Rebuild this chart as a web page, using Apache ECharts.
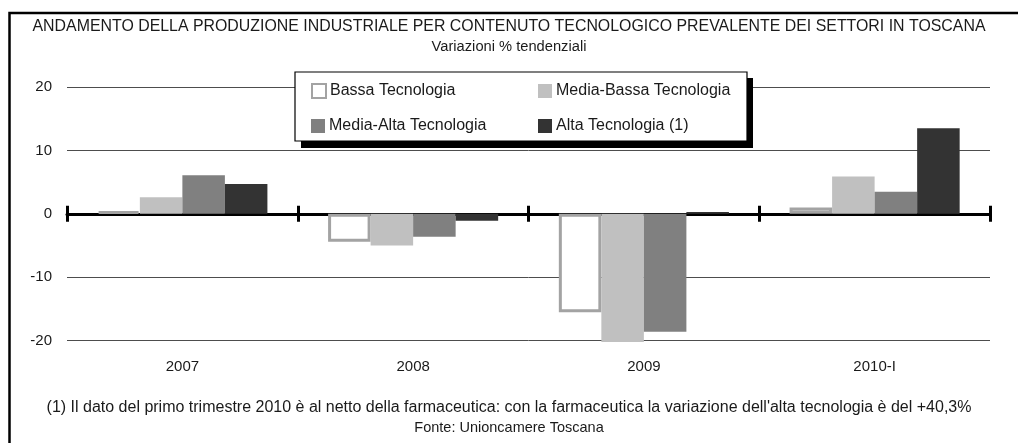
<!DOCTYPE html>
<html>
<head>
<meta charset="utf-8">
<script src="https://cdn.jsdelivr.net/npm/echarts@6/dist/echarts.min.js"></script>
<style>
  html, body { margin: 0; padding: 0; background: #fff; }
  #chart { width: 1018px; height: 443px; }
</style>
</head>
<body>
<div id="chart"></div>
<script>
// dati (variazioni % tendenziali)
const categories = ['2007', '2008', '2009', '2010-I'];
const seriesNames = ['Bassa Tecnologia', 'Media-Bassa Tecnologia', 'Media-Alta Tecnologia', 'Alta Tecnologia (1)'];
const bassa = [0.4, -4.4, -15.5, 1.0];
const mediaBassa = [2.6, -5.0, -20.2, 5.9];
const mediaAlta = [6.1, -3.6, -18.6, 3.5];
const alta = [4.7, -1.1, 0.3, 13.5];
const yTicks = [-20, -10, 0, 10, 20];

const titleText = 'ANDAMENTO DELLA PRODUZIONE INDUSTRIALE PER CONTENUTO TECNOLOGICO PREVALENTE DEI SETTORI IN TOSCANA';
const subTitleText = 'Variazioni % tendenziali';
const noteText = "(1) Il dato del primo trimestre 2010 è al netto della farmaceutica: con la farmaceutica la variazione dell'alta tecnologia è del +40,3%";
const sourceText = 'Fonte: Unioncamere Toscana';

const FONT = '"Liberation Sans", Arial, sans-serif';
const chart = echarts.init(document.getElementById('chart'));

const textStyle = { fontFamily: FONT, color: '#1a1a1a', fontWeight: 'normal' };

// legenda: una per voce, per allineare le colonne come nell'originale
const legendPos = [
  { left: 311, top: 83 },
  { left: 538, top: 83 },
  { left: 311, top: 118 },
  { left: 538, top: 118 }
];
const legends = seriesNames.map((name, i) => ({
  data: [name],
  left: legendPos[i].left,
  top: legendPos[i].top,
  padding: 0,
  itemWidth: 14,
  itemHeight: 14,
  icon: 'rect',
  selectedMode: false,
  z: 10,
  textStyle: { fontFamily: FONT, fontSize: 16, color: '#1a1a1a', lineHeight: 14, padding: [0, 0, 0, -1] }
}));

const option = {
  animation: false,
  backgroundColor: '#fff',
  textStyle: { fontFamily: FONT },
  title: [
    { text: titleText, left: 'center', top: 19, padding: 0, textStyle: { ...textStyle, fontSize: 15.9 } },
    { text: subTitleText, left: 'center', top: 39, padding: 0, textStyle: { ...textStyle, fontSize: 14.7 } },
    { text: noteText, left: 'center', top: 400, padding: 0, textStyle: { ...textStyle, fontSize: 16 } },
    { text: sourceText, left: 'center', top: 420, padding: 0, textStyle: { ...textStyle, fontSize: 14.5 } }
  ],
  graphic: [
    // cornice
    { type: 'rect', z: 1, shape: { x: 9.5, y: 13, width: 1040, height: 460 },
      style: { fill: 'none', stroke: '#000', lineWidth: 2.5 } },
    // riquadro legenda con ombra
    { type: 'rect', z: 5, shape: { x: 301, y: 78, width: 452, height: 70 },
      style: { fill: '#000' } },
    { type: 'rect', z: 6, shape: { x: 295, y: 72, width: 452, height: 69 },
      style: { fill: '#fff', stroke: '#000', lineWidth: 1.2 } }
  ],
  legend: legends,
  grid: { left: 67, right: 28, top: 87, bottom: 102.3, containLabel: false },
  xAxis: [
    {
      type: 'category', data: categories, position: 'bottom',
      axisLine: { show: false, onZero: false },
      axisTick: { show: false },
      axisLabel: { fontFamily: FONT, fontSize: 15, color: '#1a1a1a', margin: 19 }
    },
    {
      type: 'category', data: categories,
      axisLine: { show: true, onZero: true, onZeroAxisIndex: 0, lineStyle: { color: '#000', width: 3 } },
      axisTick: { show: true, inside: false, length: 8, lineStyle: { color: '#000', width: 3 } },
      axisLabel: { show: false }
    },
    {
      type: 'category', data: categories, position: 'top',
      axisLine: { show: false, onZero: true, onZeroAxisIndex: 0 },
      axisTick: { show: true, inside: true, length: 8, lineStyle: { color: '#000', width: 3 } },
      axisLabel: { show: false }
    }
  ],
  yAxis: {
    type: 'value',
    min: yTicks[0],
    max: yTicks[yTicks.length - 1],
    interval: 10,
    axisLine: { show: false },
    axisTick: { show: false },
    axisLabel: { fontFamily: FONT, fontSize: 15, color: '#1a1a1a', margin: 15 },
    splitLine: { lineStyle: { color: '#4d4d4d', width: 1 } }
  },
  series: [
    {
      name: seriesNames[0], type: 'bar', data: bassa, clip: false,
      barGap: '0%', barCategoryGap: '26.3%',
      itemStyle: { color: '#fff', borderColor: '#a3a3a3', borderWidth: 3 }
    },
    {
      name: seriesNames[1], type: 'bar', data: mediaBassa, clip: false,
      itemStyle: { color: '#c0c0c0' }
    },
    {
      name: seriesNames[2], type: 'bar', data: mediaAlta, clip: false,
      itemStyle: { color: '#808080' }
    },
    {
      name: seriesNames[3], type: 'bar', data: alta, clip: false,
      itemStyle: { color: '#333333' }
    }
  ]
};

chart.setOption(option);
</script>
</body>
</html>
